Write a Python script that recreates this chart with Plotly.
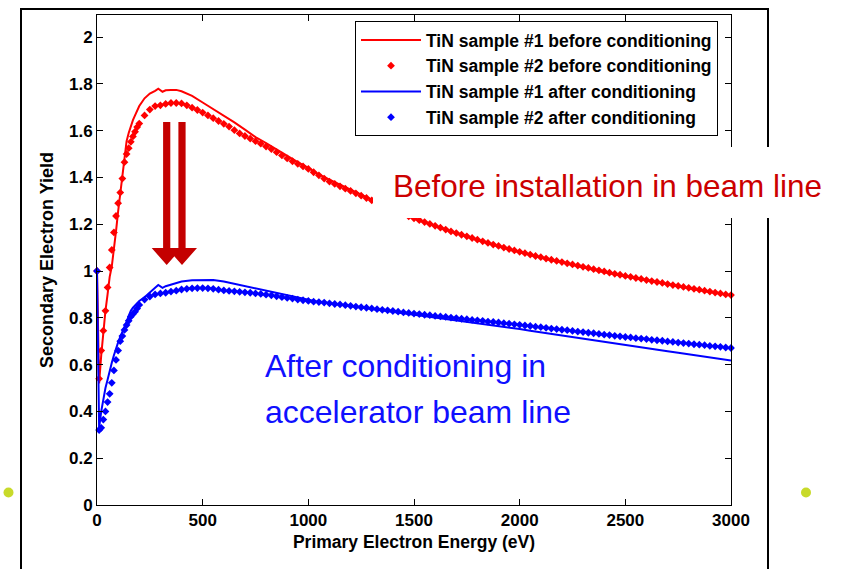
import plotly.graph_objects as go

# ---- measured secondary electron yield curves -------------------------------
# Sample #1 (drawn as lines)
energy_line_ev = [
    0, 10, 20, 30, 40, 50, 60, 70, 80, 90, 100, 110, 120, 130, 140, 150, 160, 170, 180, 190, 200,
    225, 250, 275, 290, 310, 325, 350, 375, 400,
    450, 500, 550, 600, 650, 700, 750, 800, 850, 900, 950, 1000, 1050, 1100, 1150, 1200,
    1250, 1300, 1350, 1400, 1450, 1500, 1550, 1600, 1650, 1700, 1750, 1800, 1850, 1900,
    1950, 2000, 2050, 2100, 2150, 2200, 2250, 2300, 2350, 2400, 2450, 2500, 2550, 2600,
    2650, 2700, 2750, 2800, 2850, 2900, 2950, 3000,
]
sey_s1_before = [
    1.000, 0.520, 0.640, 0.750, 0.830, 0.900, 0.975, 1.020, 1.090, 1.170, 1.255, 1.335, 1.420,
    1.500, 1.555, 1.590, 1.620, 1.645, 1.665, 1.688, 1.705,
    1.738, 1.758, 1.770, 1.779, 1.766, 1.772, 1.774, 1.774, 1.768,
    1.748, 1.720, 1.692, 1.664, 1.635, 1.604, 1.572, 1.547, 1.519, 1.491, 1.465, 1.441, 1.413,
    1.390, 1.368, 1.348, 1.326, 1.305, 1.285, 1.264, 1.244, 1.225, 1.208, 1.192, 1.176, 1.161,
    1.146, 1.132, 1.118, 1.105, 1.092, 1.080, 1.068, 1.057, 1.046, 1.036, 1.025, 1.015, 1.005,
    0.995, 0.986, 0.977, 0.968, 0.959, 0.951, 0.942, 0.934, 0.926, 0.918, 0.910, 0.902, 0.895,
]
sey_s1_after = [
    1.000, 0.330, 0.400, 0.460, 0.500, 0.535, 0.575, 0.608, 0.640, 0.670, 0.695, 0.718, 0.738,
    0.760, 0.783, 0.808, 0.830, 0.843, 0.852, 0.862, 0.872,
    0.888, 0.910, 0.928, 0.940, 0.928, 0.935, 0.942, 0.948, 0.955,
    0.960, 0.962, 0.962, 0.955, 0.945, 0.935, 0.927, 0.917, 0.907, 0.895, 0.885, 0.877, 0.868,
    0.862, 0.856, 0.850, 0.844, 0.837, 0.831, 0.825, 0.818, 0.812, 0.806, 0.800, 0.794, 0.788,
    0.782, 0.776, 0.770, 0.764, 0.758, 0.752, 0.745, 0.738, 0.732, 0.725, 0.718, 0.711, 0.705,
    0.698, 0.691, 0.684, 0.677, 0.671, 0.664, 0.657, 0.651, 0.644, 0.637, 0.631, 0.624, 0.617,
]

# Sample #2 (drawn as markers)
energy_dots_ev = [
    0, 10, 20, 30, 40, 50, 60, 70, 80, 90, 100, 110, 120, 130, 140, 150, 160, 170, 180, 190, 200,
    225, 250, 275, 300, 325, 350, 375, 400, 425, 450, 475, 500, 525, 550, 575, 600, 625, 650,
    675, 700, 725, 750, 775, 800, 825, 850, 875, 900, 925, 950, 975, 1000, 1025, 1050, 1075, 1100,
    1125, 1150, 1175, 1200, 1225, 1250, 1275, 1300, 1325, 1350, 1375, 1400, 1425, 1450, 1475, 1500,
    1525, 1550, 1575, 1600, 1625, 1650, 1675, 1700, 1725, 1750, 1775, 1800, 1825, 1850, 1875, 1900,
    1925, 1950, 1975, 2000, 2025, 2050, 2075, 2100, 2125, 2150, 2175, 2200, 2225, 2250, 2275, 2300,
    2325, 2350, 2375, 2400, 2425, 2450, 2475, 2500, 2525, 2550, 2575, 2600, 2625, 2650, 2675, 2700,
    2725, 2750, 2775, 2800, 2825, 2850, 2875, 2900, 2925, 2950, 2975, 3000,
]
sey_s2_before = [
    1.000, 0.540, 0.660, 0.745, 0.830, 0.930, 1.015, 1.090, 1.165, 1.235, 1.290, 1.335, 1.395,
    1.465, 1.500, 1.525, 1.552, 1.575, 1.595, 1.615, 1.630,
    1.665, 1.690, 1.705, 1.708, 1.714, 1.718, 1.718, 1.716, 1.708, 1.698, 1.688, 1.677, 1.665,
    1.653, 1.641, 1.629, 1.617, 1.602, 1.588, 1.577, 1.566, 1.555, 1.544, 1.532, 1.521, 1.508,
    1.494, 1.481, 1.469, 1.458, 1.447, 1.436, 1.422, 1.409, 1.395, 1.382,
    1.372, 1.362, 1.352, 1.342, 1.332, 1.322, 1.312, 1.302, 1.292, 1.282, 1.272, 1.262, 1.252,
    1.243, 1.234, 1.225,
    1.217, 1.209, 1.201, 1.193, 1.185, 1.177, 1.169, 1.162, 1.155, 1.148, 1.141, 1.134, 1.127,
    1.120, 1.113, 1.107, 1.100, 1.094, 1.088, 1.082,
    1.076, 1.070, 1.064, 1.059, 1.053, 1.048, 1.043, 1.038, 1.033, 1.028, 1.023, 1.018, 1.013,
    1.008, 1.003, 0.998, 0.993, 0.988, 0.984, 0.979,
    0.975, 0.970, 0.966, 0.961, 0.957, 0.953, 0.949, 0.944, 0.940, 0.936, 0.932, 0.928, 0.924,
    0.920, 0.916, 0.912, 0.908, 0.904, 0.900, 0.897,
]
sey_s2_after = [
    1.000, 0.320, 0.330, 0.365, 0.400, 0.440, 0.475, 0.522, 0.575, 0.620, 0.660, 0.700, 0.722,
    0.748, 0.769, 0.787, 0.805, 0.816, 0.826, 0.840, 0.855,
    0.878, 0.891, 0.900, 0.904, 0.907, 0.912, 0.916, 0.921, 0.924, 0.926, 0.927, 0.927, 0.926,
    0.924, 0.920, 0.917, 0.915, 0.913, 0.911, 0.909, 0.907, 0.904, 0.902, 0.899, 0.896, 0.892,
    0.888, 0.885, 0.882, 0.878, 0.875, 0.872, 0.869, 0.867, 0.865, 0.862,
    0.859, 0.857, 0.854, 0.851, 0.848, 0.845, 0.843, 0.840, 0.837, 0.834, 0.832, 0.829, 0.826,
    0.823, 0.821, 0.818,
    0.816, 0.813, 0.811, 0.808, 0.806, 0.804, 0.801, 0.799, 0.796, 0.794, 0.791, 0.789, 0.787,
    0.784, 0.782, 0.780, 0.777, 0.775, 0.772, 0.770,
    0.767, 0.765, 0.762, 0.760, 0.757, 0.754, 0.752, 0.749, 0.747, 0.744, 0.741, 0.739, 0.736,
    0.734, 0.731, 0.728, 0.726, 0.723, 0.721, 0.718,
    0.716, 0.713, 0.711, 0.709, 0.706, 0.704, 0.702, 0.699, 0.697, 0.694, 0.692, 0.690, 0.687,
    0.685, 0.683, 0.680, 0.678, 0.676, 0.673, 0.671,
]

series_names = [
    "TiN sample #1 before conditioning",
    "TiN sample #2 before conditioning",
    "TiN sample #1 after conditioning",
    "TiN sample #2 after conditioning",
]

x_tick_vals = [0, 500, 1000, 1500, 2000, 2500, 3000]
y_tick_vals = [0, 0.2, 0.4, 0.6, 0.8, 1.0, 1.2, 1.4, 1.6, 1.8, 2.0]
y_tick_text = ["0", "0.2", "0.4", "0.6", "0.8", "1", "1.2", "1.4", "1.6", "1.8", "2"]

for xs, ys in [(energy_line_ev, sey_s1_before), (energy_line_ev, sey_s1_after),
               (energy_dots_ev, sey_s2_before), (energy_dots_ev, sey_s2_after)]:
    assert len(xs) == len(ys), (len(xs), len(ys))

# ---- page geometry ------------------------------------------------------------
W, H = 842, 569
PLOT_L, PLOT_R, PLOT_T, PLOT_B = 97, 731, 15, 505


def fx(px):
    """page pixel column -> paper x"""
    return (px - PLOT_L) / (PLOT_R - PLOT_L)


def fy(py):
    """page pixel row -> paper y"""
    return (PLOT_B - py) / (PLOT_B - PLOT_T)


RED = "#ff0000"
BLUE = "#0000ff"
FONT = "Liberation Sans, Arial, sans-serif"

fig = go.Figure()
fig.add_trace(go.Scatter(x=energy_line_ev, y=sey_s1_before, mode="lines", name=series_names[0],
                         line=dict(color=RED, width=2), cliponaxis=False))
fig.add_trace(go.Scatter(x=energy_dots_ev, y=sey_s2_before, mode="markers", name=series_names[1],
                         marker=dict(color=RED, symbol="diamond", size=6), cliponaxis=False))
fig.add_trace(go.Scatter(x=energy_line_ev, y=sey_s1_after, mode="lines", name=series_names[2],
                         line=dict(color=BLUE, width=2), cliponaxis=False))
fig.add_trace(go.Scatter(x=energy_dots_ev, y=sey_s2_after, mode="markers", name=series_names[3],
                         marker=dict(color=BLUE, symbol="diamond", size=6), cliponaxis=False))

axis_common = dict(
    showline=True, linecolor="#000000", linewidth=1, mirror="ticks",
    ticks="inside", ticklen=6, tickcolor="#000000", tickwidth=1,
    showgrid=False, zeroline=False,
    tickfont=dict(family=FONT, size=17, color="#000000", weight="bold"),
)

fig.update_xaxes(range=[0, 3000], tickvals=x_tick_vals, ticktext=[str(v) for v in x_tick_vals],
                 title=dict(text="Primary Electron Energy (eV)", standoff=6,
                            font=dict(family=FONT, size=17.5, color="#000000", weight="bold")),
                 **axis_common)
fig.update_yaxes(range=[0, 2.094], tickvals=y_tick_vals, ticktext=y_tick_text,
                 title=dict(text="Secondary Electron Yield", standoff=10,
                            font=dict(family=FONT, size=18, color="#000000", weight="bold")),
                 **axis_common)

shapes = []
# outer slide frame
shapes.append(dict(type="path", xref="paper", yref="paper",
                   path=f"M {fx(21)},{fy(580)} L {fx(21)},{fy(9)} L {fx(768)},{fy(9)} L {fx(768)},{fy(580)}",
                   line=dict(color="#000000", width=2), layer="above"))
# white backing behind the upper caption
shapes.append(dict(type="rect", xref="paper", yref="paper",
                   x0=fx(373), x1=fx(860), y0=fy(218), y1=fy(147),
                   fillcolor="#ffffff", line=dict(width=0), layer="above"))


def down_arrow(cx):
    shaft_half, head_half = 3.6, 15
    top, neck, tip = 122, 248, 265
    pts = [(cx - shaft_half, top), (cx + shaft_half, top), (cx + shaft_half, neck),
           (cx + head_half, neck), (cx, tip), (cx - head_half, neck), (cx - shaft_half, neck)]
    return "M " + " L ".join(f"{fx(px)},{fy(py)}" for px, py in pts) + " Z"


for cx in (166.7, 182.0):
    shapes.append(dict(type="path", xref="paper", yref="paper", path=down_arrow(cx),
                       fillcolor="#c40000", line=dict(width=0), layer="above"))

# slide bullet dots
for cx, cy in ((8.5, 492.5), (806, 492.5)):
    shapes.append(dict(type="circle", xref="paper", yref="paper",
                       x0=fx(cx - 5), x1=fx(cx + 5), y0=fy(cy + 5), y1=fy(cy - 5),
                       fillcolor="#c8da2a", line=dict(width=0), layer="above"))

annotations = [
    dict(text="Before installation in beam line", x=fx(391), y=fy(186), xref="paper", yref="paper",
         xanchor="left", yanchor="middle", showarrow=False,
         font=dict(family=FONT, size=31.5, color="#cc0000")),
    dict(text="After conditioning in", x=fx(263), y=fy(366), xref="paper", yref="paper",
         xanchor="left", yanchor="middle", showarrow=False,
         font=dict(family=FONT, size=32, color="#1010ff")),
    dict(text="accelerator beam line", x=fx(263), y=fy(412), xref="paper", yref="paper",
         xanchor="left", yanchor="middle", showarrow=False,
         font=dict(family=FONT, size=32, color="#1010ff")),
]

fig.update_layout(
    width=W, height=H,
    margin=dict(l=PLOT_L, r=W - PLOT_R, t=PLOT_T, b=H - PLOT_B, pad=0),
    paper_bgcolor="#ffffff", plot_bgcolor="#ffffff",
    shapes=shapes, annotations=annotations,
    showlegend=True,
    legend=dict(x=fx(355), y=fy(21), xanchor="left", yanchor="top",
                bgcolor="#ffffff", bordercolor="#000000", borderwidth=1,
                font=dict(family=FONT, size=17.5, color="#000000", weight="bold"),
                itemwidth=60, tracegroupgap=0),
)

fig.write_html("out.html")
